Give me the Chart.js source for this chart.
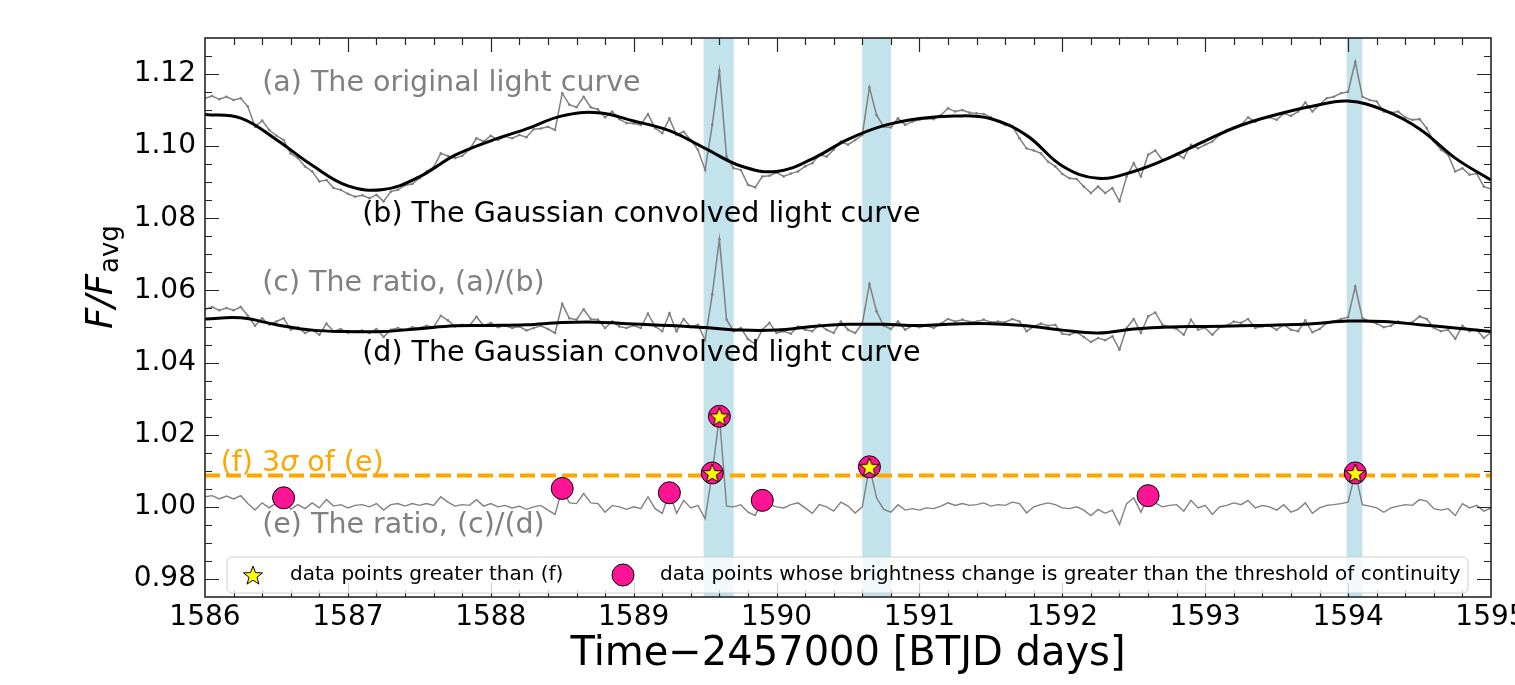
<!DOCTYPE html>
<html>
<head>
<meta charset="utf-8">
<title>Light curve flare detection</title>
<script src="https://cdn.jsdelivr.net/npm/chart.js@4.4.1/dist/chart.umd.min.js"></script>
<style>
    html, body { margin: 0; padding: 0; background: #ffffff; }
    #wrap { width: 1515px; height: 685px; }
</style>
</head>
<body>
<div id="wrap"><canvas id="lcChart" width="1515" height="685"></canvas></div>
<script>
// ---- data (BTJD - 2457000) ----
var time = [
    1586.00, 1586.05, 1586.10, 1586.15, 1586.20, 1586.25, 1586.30, 1586.35, 1586.40, 1586.45,
    1586.50, 1586.55, 1586.60, 1586.65, 1586.70, 1586.75, 1586.80, 1586.85, 1586.90, 1586.95,
    1587.00, 1587.05, 1587.10, 1587.15, 1587.20, 1587.25, 1587.30, 1587.35, 1587.40, 1587.45,
    1587.50, 1587.55, 1587.60, 1587.65, 1587.70, 1587.75, 1587.80, 1587.85, 1587.90, 1587.95,
    1588.00, 1588.05, 1588.10, 1588.15, 1588.20, 1588.25, 1588.30, 1588.35, 1588.40, 1588.45,
    1588.50, 1588.55, 1588.60, 1588.65, 1588.70, 1588.75, 1588.80, 1588.85, 1588.90, 1588.95,
    1589.00, 1589.05, 1589.10, 1589.15, 1589.20, 1589.25, 1589.30, 1589.35, 1589.40, 1589.45,
    1589.50, 1589.55, 1589.60, 1589.65, 1589.70, 1589.75, 1589.80, 1589.85, 1589.90, 1589.95,
    1590.00, 1590.05, 1590.10, 1590.15, 1590.20, 1590.25, 1590.30, 1590.35, 1590.40, 1590.45,
    1590.50, 1590.55, 1590.60, 1590.65, 1590.70, 1590.75, 1590.80, 1590.85, 1590.90, 1590.95,
    1591.00, 1591.05, 1591.10, 1591.15, 1591.20, 1591.25, 1591.30, 1591.35, 1591.40, 1591.45,
    1591.50, 1591.55, 1591.60, 1591.65, 1591.70, 1591.75, 1591.80, 1591.85, 1591.90, 1591.95,
    1592.00, 1592.05, 1592.10, 1592.15, 1592.20, 1592.25, 1592.30, 1592.35, 1592.40, 1592.45,
    1592.50, 1592.55, 1592.60, 1592.65, 1592.70, 1592.75, 1592.80, 1592.85, 1592.90, 1592.95,
    1593.00, 1593.05, 1593.10, 1593.15, 1593.20, 1593.25, 1593.30, 1593.35, 1593.40, 1593.45,
    1593.50, 1593.55, 1593.60, 1593.65, 1593.70, 1593.75, 1593.80, 1593.85, 1593.90, 1593.95,
    1594.00, 1594.05, 1594.10, 1594.15, 1594.20, 1594.25, 1594.30, 1594.35, 1594.40, 1594.45,
    1594.50, 1594.55, 1594.60, 1594.65, 1594.70, 1594.75, 1594.80, 1594.85, 1594.90, 1594.95,
    1595.00
];

// (a) original light curve
var fluxOriginal = [
    1.1133, 1.1139, 1.1130, 1.1137, 1.1128, 1.1133, 1.1110, 1.1054, 1.1071, 1.1045,
    1.1029, 1.1017, 1.0980, 1.0967, 1.0944, 1.0930, 1.0902, 1.0906, 1.0884, 1.0879,
    1.0868, 1.0860, 1.0864, 1.0856, 1.0865, 1.0847, 1.0874, 1.0879, 1.0892, 1.0895,
    1.0911, 1.0930, 1.0942, 1.0980, 1.0973, 1.0967, 1.0973, 1.0990, 1.1022, 1.1013,
    1.1029, 1.1017, 1.1027, 1.1022, 1.1031, 1.1025, 1.1047, 1.1049, 1.1054, 1.1045,
    1.1147, 1.1115, 1.1108, 1.1137, 1.1108, 1.1102, 1.1080, 1.1096, 1.1075, 1.1064,
    1.1063, 1.1059, 1.1089, 1.1050, 1.1036, 1.1077, 1.1031, 1.1040, 1.1017, 1.0990,
    1.0934, 1.1059, 1.1209, 1.0971, 1.0939, 1.0934, 1.0893, 1.0886, 1.0916, 1.0918,
    1.0927, 1.0916, 1.0924, 1.0930, 1.0944, 1.0953, 1.0976, 1.0971, 1.0990, 1.1013,
    1.1004, 1.1017, 1.1031, 1.1163, 1.1086, 1.1054, 1.1052, 1.1077, 1.1059, 1.1068,
    1.1073, 1.1077, 1.1075, 1.1086, 1.1105, 1.1096, 1.1100, 1.1093, 1.1091, 1.1089,
    1.1080, 1.1068, 1.1059, 1.1056, 1.1022, 1.0994, 1.0988, 1.0980, 1.0957, 1.0944,
    1.0923, 1.0911, 1.0909, 1.0888, 1.0870, 1.0888, 1.0870, 1.0884, 1.0847, 1.0916,
    1.0953, 1.0916, 1.0976, 1.0988, 1.0962, 1.0967, 1.0979, 1.0967, 1.1004, 1.0994,
    1.1004, 1.1013, 1.1031, 1.1045, 1.1052, 1.1059, 1.1080, 1.1068, 1.1077, 1.1080,
    1.1073, 1.1091, 1.1084, 1.1096, 1.1121, 1.1096, 1.1115, 1.1133, 1.1137, 1.1147,
    1.1151, 1.1234, 1.1137, 1.1128, 1.1124, 1.1096, 1.1093, 1.1096, 1.1080, 1.1073,
    1.1075, 1.1050, 1.1013, 1.0990, 1.0976, 1.0930, 1.0939, 1.0921, 1.0924, 1.0888,
    1.0881
];

// (c) ratio (a)/(b)
var fluxRatio = [
    1.0548, 1.0554, 1.0545, 1.0551, 1.0545, 1.0554, 1.0530, 1.0502, 1.0523, 1.0505,
    1.0514, 1.0523, 1.0491, 1.0498, 1.0482, 1.0491, 1.0477, 1.0508, 1.0487, 1.0493,
    1.0482, 1.0487, 1.0489, 1.0482, 1.0493, 1.0471, 1.0491, 1.0496, 1.0491, 1.0498,
    1.0496, 1.0502, 1.0498, 1.0530, 1.0517, 1.0500, 1.0505, 1.0502, 1.0527, 1.0502,
    1.0510, 1.0498, 1.0502, 1.0496, 1.0500, 1.0489, 1.0496, 1.0502, 1.0493, 1.0482,
    1.0563, 1.0523, 1.0519, 1.0548, 1.0521, 1.0519, 1.0496, 1.0514, 1.0500, 1.0496,
    1.0503, 1.0496, 1.0536, 1.0500, 1.0487, 1.0537, 1.0487, 1.0521, 1.0498, 1.0505,
    1.0462, 1.0589, 1.0742, 1.0519, 1.0487, 1.0496, 1.0465, 1.0452, 1.0491, 1.0510,
    1.0482, 1.0487, 1.0480, 1.0500, 1.0491, 1.0487, 1.0505, 1.0491, 1.0482, 1.0514,
    1.0491, 1.0482, 1.0508, 1.0618, 1.0542, 1.0502, 1.0493, 1.0514, 1.0491, 1.0502,
    1.0498, 1.0502, 1.0496, 1.0508, 1.0521, 1.0514, 1.0519, 1.0513, 1.0514, 1.0519,
    1.0512, 1.0514, 1.0512, 1.0521, 1.0514, 1.0487, 1.0500, 1.0508, 1.0502, 1.0505,
    1.0480, 1.0477, 1.0484, 1.0471, 1.0457, 1.0468, 1.0462, 1.0473, 1.0436, 1.0496,
    1.0521, 1.0482, 1.0528, 1.0539, 1.0505, 1.0498, 1.0493, 1.0477, 1.0519, 1.0491,
    1.0496, 1.0477, 1.0498, 1.0502, 1.0514, 1.0510, 1.0521, 1.0496, 1.0500, 1.0502,
    1.0491, 1.0505, 1.0491, 1.0487, 1.0517, 1.0484, 1.0493, 1.0510, 1.0514, 1.0521,
    1.0526, 1.0611, 1.0523, 1.0514, 1.0508, 1.0498, 1.0502, 1.0514, 1.0510, 1.0512,
    1.0528, 1.0521, 1.0496, 1.0487, 1.0491, 1.0466, 1.0502, 1.0487, 1.0491, 1.0468,
    1.0484
];

// (e) ratio (c)/(d)
var fluxResidual = [
    1.0028, 1.0031, 1.0022, 1.0030, 1.0022, 1.0031, 1.0009, 0.9991, 1.0011, 0.9997,
    1.0011, 1.0025, 0.9993, 1.0006, 0.9995, 1.0011, 0.9997, 1.0020, 1.0002, 1.0006,
    0.9997, 1.0004, 1.0006, 1.0000, 1.0009, 0.9991, 1.0006, 1.0009, 1.0002, 1.0009,
    1.0004, 1.0009, 1.0004, 1.0028, 1.0013, 1.0002, 1.0006, 1.0004, 1.0020, 1.0002,
    1.0009, 1.0000, 1.0004, 0.9997, 1.0002, 0.9993, 1.0000, 1.0004, 0.9991, 0.9979,
    1.0051, 1.0011, 1.0009, 1.0037, 1.0011, 1.0009, 0.9985, 1.0004, 1.0000, 0.9993,
    1.0000, 0.9995, 1.0028, 0.9995, 0.9982, 1.0039, 0.9982, 1.0018, 0.9997, 1.0004,
    0.9967, 1.0094, 1.0251, 1.0002, 1.0000, 1.0006, 0.9985, 0.9976, 1.0018, 1.0006,
    1.0000, 0.9997, 1.0006, 1.0011, 0.9997, 0.9982, 1.0006, 1.0000, 0.9988, 1.0013,
    1.0002, 0.9983, 1.0000, 1.0111, 1.0025, 0.9993, 0.9985, 1.0006, 0.9991, 0.9995,
    0.9991, 0.9997, 0.9995, 1.0002, 1.0011, 1.0004, 1.0009, 1.0004, 1.0006, 1.0011,
    1.0002, 1.0006, 1.0004, 1.0013, 1.0009, 0.9983, 1.0000, 1.0006, 1.0011, 1.0006,
    0.9997, 0.9995, 1.0000, 0.9991, 0.9976, 0.9993, 0.9982, 0.9991, 0.9951, 1.0009,
    1.0025, 0.9985, 1.0031, 1.0011, 1.0000, 1.0004, 1.0006, 0.9988, 1.0018, 0.9997,
    1.0004, 0.9979, 1.0000, 1.0004, 1.0011, 1.0006, 1.0018, 0.9997, 1.0004, 1.0000,
    0.9991, 1.0006, 0.9985, 0.9993, 1.0011, 0.9982, 0.9997, 1.0004, 1.0006, 1.0009,
    1.0013, 1.0094, 1.0006, 1.0002, 0.9997, 0.9985, 0.9997, 1.0002, 1.0006, 1.0004,
    1.0020, 1.0016, 0.9995, 0.9991, 0.9995, 0.9976, 1.0009, 0.9997, 1.0004, 0.9988,
    0.9997
];

// (b) and (d) Gaussian convolved curves
var smoothTime = [
    1586.00, 1586.25, 1586.50, 1586.75, 1587.00, 1587.25, 1587.50, 1587.75,
    1588.00, 1588.25, 1588.50, 1588.75, 1589.00, 1589.25, 1589.50, 1589.75,
    1590.00, 1590.25, 1590.50, 1590.75, 1591.00, 1591.25, 1591.50, 1591.75,
    1592.00, 1592.25, 1592.50, 1592.75, 1593.00, 1593.25, 1593.50, 1593.75,
    1594.00, 1594.25, 1594.50, 1594.75, 1595.00
];
var fluxGauss = [
    1.1088, 1.1078, 1.1018, 1.0947, 1.0890, 1.0880, 1.0915, 1.0975,
    1.1015, 1.1048, 1.1084, 1.1093, 1.1070, 1.1043, 1.0994, 1.0945,
    1.0930, 1.0965, 1.1019, 1.1057, 1.1077, 1.1084, 1.1076, 1.1030,
    1.0945, 1.0911, 1.0930, 1.0968, 1.1015, 1.1058, 1.1088, 1.1111,
    1.1125, 1.1100, 1.1048, 1.0967, 1.0906
];
var ratioGauss = [
    1.0521, 1.0524, 1.0505, 1.0490, 1.0486, 1.0486, 1.0494, 1.0502,
    1.0503, 1.0505, 1.0511, 1.0512, 1.0507, 1.0503, 1.0497, 1.0490,
    1.0490, 1.0500, 1.0506, 1.0506, 1.0503, 1.0507, 1.0508, 1.0502,
    1.0490, 1.0482, 1.0493, 1.0499, 1.0500, 1.0502, 1.0504, 1.0508,
    1.0515, 1.0514, 1.0505, 1.0496, 1.0486
];

// flagged points
var jumpTime = [1586.55, 1588.50, 1589.25, 1589.55, 1589.60, 1589.90, 1590.65, 1592.60, 1594.05];
var jumpFlux = [1.0025, 1.0051, 1.0039, 1.0094, 1.0251, 1.0018, 1.0111, 1.0031, 1.0094];
var peakTime = [1589.55, 1589.60, 1590.65, 1594.05];
var peakFlux = [1.0094, 1.0251, 1.0111, 1.0094];
var threshold = 1.0087;

// flare windows
var flareStart = [1589.49, 1590.60, 1593.99];
var flareEnd = [1589.70, 1590.80, 1594.10];

var xTicks = [1586, 1587, 1588, 1589, 1590, 1591, 1592, 1593, 1594, 1595];
var yTicks = [0.98, 1.00, 1.02, 1.04, 1.06, 1.08, 1.10, 1.12];

// ---- helpers ----
var FONT = "'DejaVu Sans', 'Liberation Sans', sans-serif";

function pairs(xs, ys) {
    return xs.map(function (x, i) { return { x: x, y: ys[i] }; });
}

function makeStar(r) {
    var c = document.createElement('canvas');
    var s = Math.ceil(2 * r + 4);
    c.width = s;
    c.height = s;
    var g = c.getContext('2d');
    g.translate(s / 2, s / 2 + 1);
    g.beginPath();
    for (var k = 0; k < 10; k++) {
        var rr = k % 2 === 0 ? r : r * 0.42;
        var a = -Math.PI / 2 + k * Math.PI / 5;
        g.lineTo(rr * Math.cos(a), rr * Math.sin(a));
    }
    g.closePath();
    g.fillStyle = '#ffff00';
    g.fill();
    g.lineWidth = 1;
    g.strokeStyle = '#000000';
    g.stroke();
    return c;
}
var starImg = makeStar(10);

// text labels inside the plot (x in days, y = baseline value)
var notes = [
    { text: '(a) The original light curve', x: 1586.40, y: 1.1153, color: '#808080' },
    { text: '(b) The Gaussian convolved light curve', x: 1587.10, y: 1.0791, color: '#000000' },
    { text: '(c) The ratio, (a)/(b)', x: 1586.40, y: 1.0599, color: '#808080' },
    { text: '(d) The Gaussian convolved light curve', x: 1587.10, y: 1.0403, color: '#000000' },
    { text: '(e) The ratio, (c)/(d)', x: 1586.40, y: 0.9928, color: '#808080' }
];

// ---- plugins ----
var flareBands = {
    id: 'flareBands',
    beforeDatasetsDraw: function (chart) {
        var ctx = chart.ctx, xs = chart.scales.x, area = chart.chartArea;
        ctx.save();
        ctx.fillStyle = 'rgba(173, 216, 230, 0.75)';
        for (var i = 0; i < flareStart.length; i++) {
            var x0 = xs.getPixelForValue(flareStart[i]);
            var x1 = xs.getPixelForValue(flareEnd[i]);
            ctx.fillRect(x0, area.top, x1 - x0, area.bottom - area.top);
        }
        ctx.restore();
    }
};

var textLabels = {
    id: 'textLabels',
    afterDatasetsDraw: function (chart) {
        var ctx = chart.ctx, xs = chart.scales.x, ys = chart.scales.y;
        ctx.save();
        ctx.textBaseline = 'alphabetic';
        ctx.textAlign = 'left';
        ctx.font = '28.5px ' + FONT;
        notes.forEach(function (n) {
            ctx.fillStyle = n.color;
            ctx.fillText(n.text, xs.getPixelForValue(n.x), ys.getPixelForValue(n.y));
        });
        // (f) 3 sigma of (e)
        var fx = xs.getPixelForValue(1586.11), fy = ys.getPixelForValue(1.0099);
        ctx.fillStyle = '#ffa500';
        var p1 = '(f) 3';
        ctx.fillText(p1, fx, fy);
        fx += ctx.measureText(p1).width;
        ctx.font = 'italic 28.5px ' + FONT;
        ctx.fillText('σ', fx, fy);
        fx += ctx.measureText('σ').width;
        ctx.font = '28.5px ' + FONT;
        ctx.fillText(' of (e)', fx, fy);
        ctx.restore();
    }
};

var frameTicks = {
    id: 'frameTicks',
    afterDraw: function (chart) {
        var ctx = chart.ctx, a = chart.chartArea, xs = chart.scales.x, ys = chart.scales.y;
        ctx.save();
        ctx.strokeStyle = '#262626';
        ctx.lineWidth = 1.2;
        ctx.beginPath();
        var k, p, len;
        for (k = 1; k < 45; k++) {
            p = Math.round(xs.getPixelForValue(1586 + k * 0.2)) + 0.5;
            len = k % 5 === 0 ? 14 : 7;
            ctx.moveTo(p, a.bottom); ctx.lineTo(p, a.bottom - len);
            ctx.moveTo(p, a.top); ctx.lineTo(p, a.top + len);
        }
        for (k = 1; k < 31; k++) {
            p = Math.round(ys.getPixelForValue(0.975 + k * 0.005)) + 0.5;
            len = (k - 1) % 4 === 0 ? 14 : 7;
            ctx.moveTo(a.left, p); ctx.lineTo(a.left + len, p);
            ctx.moveTo(a.right, p); ctx.lineTo(a.right - len, p);
        }
        ctx.stroke();
        ctx.lineWidth = 1.6;
        ctx.strokeRect(a.left, a.top, a.right - a.left, a.bottom - a.top);

        // y axis title F/F_avg
        ctx.fillStyle = '#000000';
        ctx.translate(112, 329);
        ctx.rotate(-Math.PI / 2);
        ctx.textBaseline = 'alphabetic';
        ctx.textAlign = 'left';
        ctx.font = 'italic 37px ' + FONT;
        ctx.fillText('F/F', 0, 0);
        var w = ctx.measureText('F/F').width;
        ctx.font = '26px ' + FONT;
        ctx.fillText('avg', w + 1, 6);
        ctx.restore();

        // legend
        ctx.save();
        var lx = 227, ly = 557, lw = 1241, lh = 36;
        ctx.beginPath();
        ctx.roundRect(lx, ly, lw, lh, 5);
        ctx.fillStyle = 'rgba(255, 255, 255, 0.8)';
        ctx.fill();
        ctx.strokeStyle = '#d0d0d0';
        ctx.lineWidth = 1;
        ctx.stroke();
        ctx.drawImage(starImg, 253 - starImg.width / 2, 575 - starImg.height / 2);
        ctx.beginPath();
        ctx.arc(623, 575, 11, 0, Math.PI * 2);
        ctx.fillStyle = '#ff1493';
        ctx.fill();
        ctx.strokeStyle = '#000000';
        ctx.stroke();
        ctx.fillStyle = '#000000';
        ctx.font = '20px ' + FONT;
        ctx.textBaseline = 'middle';
        ctx.fillText('data points greater than (f)', 290, 575);
        ctx.fillText('data points whose brightness change is greater than the threshold of continuity', 660, 575);
        ctx.restore();
    }
};

// ---- chart ----
var ctx = document.getElementById('lcChart').getContext('2d');
var lcChart = new Chart(ctx, {
    type: 'line',
    data: {
        datasets: [{
            label: 'data points greater than (f)',
            type: 'scatter',
            data: pairs(peakTime, peakFlux),
            pointStyle: starImg,
            order: 0
        }, {
            label: 'data points whose brightness change is greater than the threshold of continuity',
            type: 'scatter',
            data: pairs(jumpTime, jumpFlux),
            pointStyle: 'circle',
            pointRadius: 11,
            pointBackgroundColor: '#ff1493',
            pointBorderColor: '#000000',
            pointBorderWidth: 1,
            order: 1
        }, {
            label: '(f) 3 sigma of (e)',
            data: pairs([1586, 1595], [threshold, threshold]),
            borderColor: '#ffa500',
            borderWidth: 4,
            borderDash: [15, 6],
            pointRadius: 0,
            order: 2
        }, {
            label: '(e) The ratio, (c)/(d)',
            data: pairs(time, fluxResidual),
            borderColor: '#808080',
            borderWidth: 1.4,
            pointRadius: 0,
            order: 3
        }, {
            label: '(d) The Gaussian convolved light curve',
            data: pairs(smoothTime, ratioGauss),
            borderColor: '#000000',
            borderWidth: 3,
            tension: 0.4,
            pointRadius: 0,
            order: 4
        }, {
            label: '(c) The ratio, (a)/(b)',
            data: pairs(time, fluxRatio),
            borderColor: '#808080',
            borderWidth: 1.5,
            pointRadius: 1.3,
            pointBackgroundColor: '#808080',
            pointBorderWidth: 0,
            order: 5
        }, {
            label: '(b) The Gaussian convolved light curve',
            data: pairs(smoothTime, fluxGauss),
            borderColor: '#000000',
            borderWidth: 3,
            tension: 0.4,
            pointRadius: 0,
            order: 6
        }, {
            label: '(a) The original light curve',
            data: pairs(time, fluxOriginal),
            borderColor: '#808080',
            borderWidth: 1.5,
            pointRadius: 1.3,
            pointBackgroundColor: '#808080',
            pointBorderWidth: 0,
            order: 7
        }]
    },
    options: {
        responsive: false,
        animation: false,
        layout: { padding: { left: 0, right: 24, top: 38, bottom: 0 } },
        plugins: {
            legend: { display: false },
            tooltip: { enabled: false }
        },
        scales: {
            x: {
                type: 'linear',
                min: 1586,
                max: 1595,
                afterBuildTicks: function (scale) {
                    scale.ticks = xTicks.map(function (v) { return { value: v }; });
                },
                afterFit: function (scale) {
                    scale.height = 88;
                    scale.paddingLeft = 0;
                    scale.paddingRight = 0;
                },
                grid: { display: false, drawTicks: false },
                border: { display: false },
                ticks: {
                    color: '#000000',
                    padding: 4,
                    maxRotation: 0,
                    font: { family: FONT, size: 28 },
                    callback: function (v) { return String(v); }
                },
                title: {
                    display: true,
                    text: 'Time−2457000 [BTJD days]',
                    color: '#000000',
                    font: { family: FONT, size: 40 },
                    padding: { top: 0, bottom: 6 }
                }
            },
            y: {
                type: 'linear',
                min: 0.975,
                max: 1.13,
                afterBuildTicks: function (scale) {
                    scale.ticks = yTicks.map(function (v) { return { value: v }; });
                },
                afterFit: function (scale) {
                    scale.width = 205;
                    scale.paddingTop = 0;
                    scale.paddingBottom = 0;
                },
                grid: { display: false, drawTicks: false },
                border: { display: false },
                ticks: {
                    color: '#000000',
                    padding: 9,
                    font: { family: FONT, size: 28 },
                    callback: function (v) { return v.toFixed(2); }
                }
            }
        }
    },
    plugins: [flareBands, textLabels, frameTicks]
});
</script>
</body>
</html>
